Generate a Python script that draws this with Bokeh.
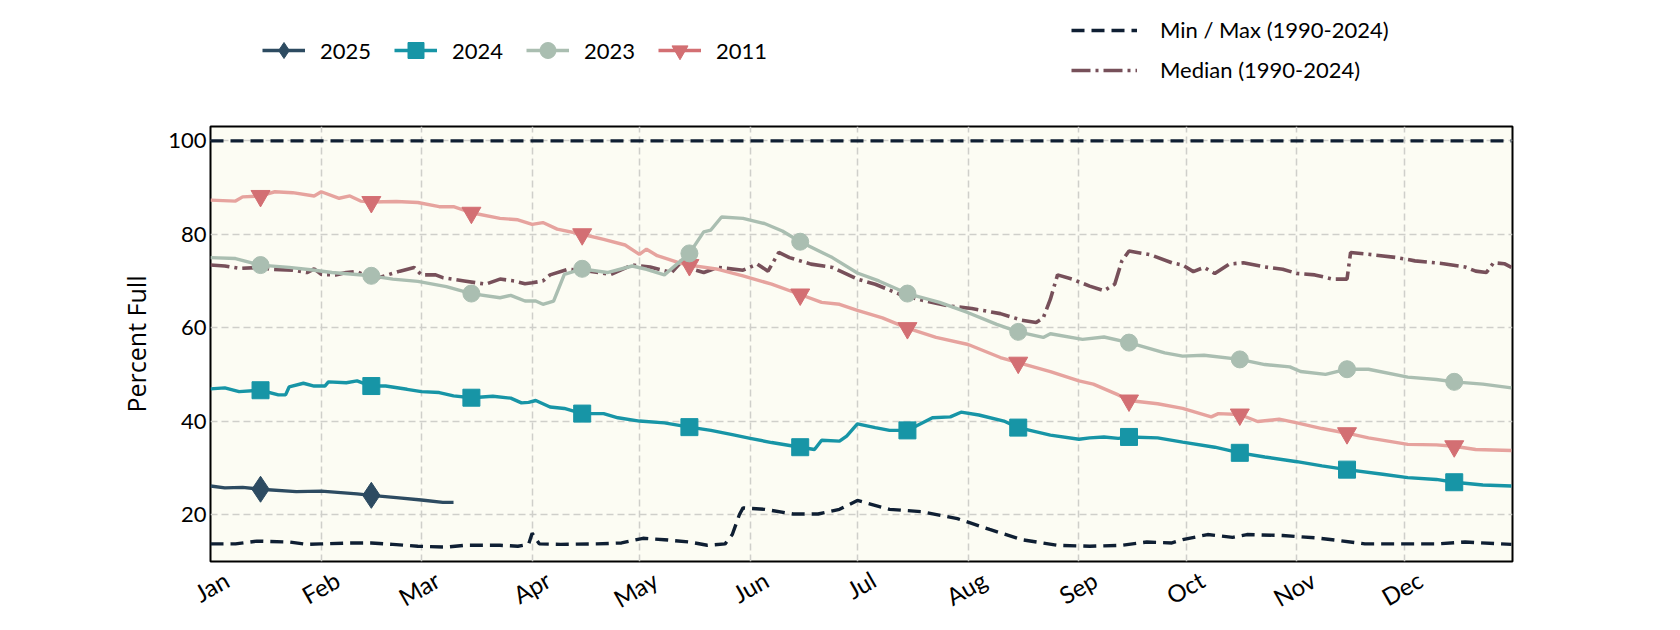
from bokeh.plotting import figure
from bokeh.layouts import column
from bokeh.models import Range1d, FixedTicker, Legend, LegendItem
from bokeh.embed import file_html
from bokeh.resources import INLINE

# ---------------- data (day of year, percent full) ----------------
month_names = ["Jan", "Feb", "Mar", "Apr", "May", "Jun",
               "Jul", "Aug", "Sep", "Oct", "Nov", "Dec"]
month_start_days = [0, 31, 59, 90, 120, 151, 181, 212, 243, 273, 304, 334]
marker_days = [14, 45, 73, 104, 134, 165, 195, 226, 257, 288, 318, 348]

y_ticks = [20, 40, 60, 80, 100]

days_2025 = [0, 4, 9, 14, 24, 31, 41, 45, 52, 59, 65, 68]
vals_2025 = [26.1, 25.7, 25.8, 25.4, 24.9, 25.0, 24.4, 24.1, 23.6, 23.1, 22.6, 22.6]

days_2024 = [0, 4, 8, 14, 19, 21, 22, 26, 29, 32, 33, 38, 41, 45, 49, 55, 59, 64, 68, 73,
             79, 84, 87, 89, 91, 95, 99, 104, 110, 114, 120, 127, 134, 140, 146, 151, 157, 165, 169, 171,
             176, 178, 181, 186, 190, 195, 202, 207, 210, 215, 222, 226, 235, 243, 246, 250, 254, 257, 265, 272,
             281, 288, 295, 304, 311, 318, 328, 335, 343, 348, 356, 364]
vals_2024 = [46.9, 47.1, 46.3, 46.6, 45.6, 45.6, 47.3, 48.1, 47.5, 47.5, 48.4, 48.2, 48.6, 47.5, 47.5, 46.8, 46.3, 46.1, 45.4, 45.0,
             45.3, 44.9, 43.9, 44.0, 44.4, 43.0, 42.7, 41.6, 41.6, 40.7, 40.0, 39.6, 38.7, 38.0, 37.1, 36.3, 35.4, 34.4, 33.9, 35.9,
             35.7, 36.8, 39.4, 38.6, 38.0, 38.0, 40.7, 40.9, 41.9, 41.3, 40.0, 38.6, 37.0, 36.1, 36.4, 36.6, 36.3, 36.6, 36.4, 35.5,
             34.4, 33.2, 32.3, 31.3, 30.4, 29.6, 28.6, 27.9, 27.5, 26.9, 26.3, 26.1]

days_2023 = [0, 7, 14, 22, 28, 34, 45, 51, 58, 66, 73, 81, 84, 88, 91, 93, 96, 99, 104, 111,
             118, 122, 127, 134, 138, 140, 143, 149, 155, 160, 165, 174, 181, 187, 195, 204, 212, 220, 226, 233,
             235, 244, 250, 257, 267, 272, 278, 288, 295, 302, 305, 312, 318, 324, 335, 343, 348, 356, 364]
vals_2023 = [75.0, 74.8, 73.4, 72.9, 72.4, 71.8, 71.1, 70.4, 69.9, 68.8, 67.3, 66.4, 66.9, 65.7, 65.7, 65.0, 65.7, 71.4, 72.6, 71.8,
             73.2, 72.5, 71.3, 75.9, 80.5, 80.9, 83.7, 83.4, 82.3, 80.7, 78.4, 75.0, 71.7, 70.0, 67.3, 65.4, 63.2, 60.7, 59.1, 57.9,
             58.7, 57.5, 58.0, 56.8, 54.6, 53.9, 54.1, 53.2, 52.1, 51.6, 50.6, 50.0, 51.1, 51.1, 49.4, 48.9, 48.4, 47.9, 47.1]

days_2011 = [0, 7, 9, 14, 18, 23, 29, 31, 36, 39, 42, 45, 52, 58, 64, 68, 73, 81, 86, 90,
             93, 97, 104, 110, 116, 120, 122, 125, 131, 134, 142, 149, 157, 165, 171, 176, 181, 188, 195, 203,
             212, 221, 226, 235, 243, 247, 254, 257, 265, 272, 280, 282, 288, 293, 299, 304, 311, 318, 324, 335,
             343, 348, 354, 364]
vals_2011 = [87.3, 87.1, 88.0, 88.2, 89.1, 88.9, 88.2, 89.1, 87.7, 88.2, 87.1, 86.9, 87.0, 86.8, 85.9, 85.9, 84.6, 83.4, 83.1, 82.1,
             82.5, 81.1, 80.0, 78.9, 77.7, 75.7, 76.8, 75.4, 73.9, 73.4, 72.5, 71.1, 69.3, 67.1, 65.4, 65.0, 63.7, 62.1, 59.9, 57.9,
             56.4, 53.6, 52.5, 50.6, 48.6, 47.9, 45.6, 44.4, 43.7, 42.7, 40.9, 41.6, 41.4, 39.9, 40.4, 39.6, 38.4, 37.4, 36.4, 35.0,
             34.9, 34.6, 33.9, 33.7]

days_median = [0, 4, 8, 14, 17, 23, 27, 29, 31, 35, 38, 41, 43, 47, 53, 57, 59, 63, 65, 71,
               77, 81, 85, 88, 90, 93, 95, 100, 106, 112, 118, 123, 129, 132, 135, 138, 142, 149, 153, 156,
               159, 162, 168, 174, 181, 186, 193, 199, 207, 213, 221, 227, 231, 233, 235, 237, 241, 246, 250, 253,
               255, 257, 263, 269, 272, 275, 278, 281, 285, 289, 295, 300, 304, 309, 314, 318, 319, 324, 332, 337,
               345, 351, 354, 357, 359, 362, 364]
vals_median = [73.4, 73.2, 72.7, 72.9, 72.5, 72.3, 71.8, 72.6, 71.4, 71.3, 71.8, 72.0, 71.3, 70.7, 72.1, 72.9, 71.3, 71.3, 70.7, 70.0,
               69.3, 70.4, 70.0, 69.4, 69.6, 70.0, 71.3, 72.5, 72.1, 71.4, 73.4, 73.0, 71.8, 74.3, 72.5, 71.8, 72.9, 72.3, 73.6, 72.1,
               76.1, 75.0, 73.6, 72.9, 70.4, 69.3, 67.1, 65.9, 64.6, 64.1, 63.0, 61.6, 61.1, 62.1, 66.1, 71.3, 70.4, 68.9, 67.9, 69.3,
               74.3, 76.4, 75.6, 73.9, 73.4, 72.0, 72.9, 71.6, 73.6, 73.9, 73.0, 72.5, 71.6, 71.3, 70.4, 70.4, 76.1, 75.7, 75.0, 74.3,
               73.7, 73.0, 72.1, 71.8, 73.9, 73.7, 72.9]

days_min = [0, 7, 13, 22, 27, 31, 39, 45, 51, 58, 66, 71, 81, 86, 89, 90, 92, 98, 108, 115,
            121, 127, 134, 139, 144, 146, 148, 149, 155, 163, 170, 176, 181, 190, 199, 209, 218, 227, 237, 246,
            255, 262, 269, 272, 279, 286, 290, 300, 309, 316, 323, 332, 343, 351, 364]
vals_min = [13.7, 13.7, 14.3, 14.1, 13.6, 13.7, 13.9, 13.9, 13.6, 13.2, 13.0, 13.4, 13.4, 13.2, 13.6, 16.0, 13.7, 13.6, 13.7, 13.9,
            14.9, 14.6, 14.1, 13.4, 13.7, 15.7, 20.0, 21.4, 21.1, 20.1, 20.1, 21.1, 23.0, 21.1, 20.6, 19.1, 16.8, 14.6, 13.4, 13.2,
            13.4, 14.1, 13.9, 14.6, 15.7, 15.1, 15.7, 15.5, 15.0, 14.4, 13.7, 13.7, 13.7, 14.1, 13.6]

days_max = [0, 364]
vals_max = [100.0, 100.0]

# ---------------- styling ----------------
FONT = "Lato"
FS = "22px"
LABEL_FONT = "Open Sans"
C2025 = "#2d4b61"
C2024 = "#1795a6"
C2023 = "#aabeb1"
C2011_M = "#d36f73"
C2011_L = "#e6a39e"
CMIN = "#0f1f33"
CMED = "#77505a"
LABEL_SHIFT_DAYS = 4.5   # rotated month labels are centred on their gridline
LW = 3.4

MIN_DASH = "13 7"
MED_DASH = "19 5 3 5"


def marks(days, vals):
    xs = [d for d in days if d in marker_days]
    ys = [v for d, v in zip(days, vals) if d in marker_days]
    return xs, ys


# ---------------- main chart ----------------
p = figure(width=1680, height=510, output_backend="svg", toolbar_location=None,
           x_range=Range1d(0, 364.3), y_range=Range1d(9.93, 103.07),
           min_border_left=210, min_border_right=168, min_border_top=6, min_border_bottom=69)
p.background_fill_color = "#fcfcf3"
p.border_fill_color = "white"
p.outline_line_color = "black"
p.outline_line_width = 2

label_ticks = [d + LABEL_SHIFT_DAYS for d in month_start_days]
p.xaxis.ticker = FixedTicker(ticks=label_ticks)
p.xaxis.major_label_overrides = {t: n for t, n in zip(label_ticks, month_names)}
p.xaxis.major_label_orientation = 0.52
p.yaxis.ticker = FixedTicker(ticks=y_ticks)
p.xgrid.ticker = FixedTicker(ticks=month_start_days)
p.ygrid.ticker = FixedTicker(ticks=y_ticks)
for g in (p.xgrid, p.ygrid):
    g.grid_line_color = "#cfcfca"
    g.grid_line_dash = "7 4"
    g.grid_line_width = 1.5

for ax in (p.xaxis, p.yaxis):
    ax.axis_line_color = None
    ax.major_tick_line_color = None
    ax.minor_tick_line_color = None
    ax.major_tick_out = 0
    ax.major_tick_in = 0
    ax.minor_tick_out = 0
    ax.major_label_text_font = FONT
    ax.major_label_text_font_size = FS
    ax.major_label_text_color = "black"
p.xaxis.major_label_text_font_size = "24px"
p.xaxis.major_label_standoff = 16
p.yaxis.major_label_standoff = 4
p.yaxis.axis_label = "Percent Full"
p.yaxis.axis_label_text_font = LABEL_FONT
p.yaxis.axis_label_text_font_size = "25px"
p.yaxis.axis_label_text_font_style = "normal"
p.yaxis.axis_label_text_color = "black"
p.yaxis.axis_label_standoff = 12

p.line(days_max, vals_max, line_color=CMIN, line_width=LW, line_dash=MIN_DASH)
p.line(days_min, vals_min, line_color=CMIN, line_width=LW, line_dash=MIN_DASH)
p.line(days_median, vals_median, line_color=CMED, line_width=3.6, line_dash=MED_DASH)

p.line(days_2011, vals_2011, line_color=C2011_L, line_width=LW)
x, y = marks(days_2011, vals_2011)
p.scatter(x, y, marker="inverted_triangle", size=19, fill_color=C2011_M, line_color=C2011_M)

p.line(days_2023, vals_2023, line_color=C2023, line_width=LW)
x, y = marks(days_2023, vals_2023)
p.scatter(x, y, marker="circle", size=17, fill_color=C2023, line_color=C2023)

p.line(days_2024, vals_2024, line_color=C2024, line_width=LW)
x, y = marks(days_2024, vals_2024)
p.scatter(x, y, marker="square", size=17, fill_color=C2024, line_color=C2024)

p.line(days_2025, vals_2025, line_color=C2025, line_width=LW)
x, y = marks(days_2025, vals_2025)
p.scatter(x, y, marker="diamond", size=26, fill_color=C2025, line_color=C2025)

# ---------------- legend band above the chart ----------------
# its ranges keep the (real) data out of view, so only the legend glyphs show
lf = figure(width=1680, height=120, output_backend="svg", toolbar_location=None,
            x_range=Range1d(0, 1), y_range=Range1d(-2, -1),
            x_axis_type=None, y_axis_type=None,
            min_border_left=0, min_border_right=0, min_border_top=0, min_border_bottom=0)
lf.outline_line_color = None
lf.grid.visible = False
lf.background_fill_color = "white"
lf.border_fill_color = "white"

g25l = lf.line(days_2025, vals_2025, line_color=C2025, line_width=LW)
g25m = lf.scatter(days_2025, vals_2025, marker="diamond", fill_color=C2025, line_color=C2025)
g24l = lf.line(days_2024, vals_2024, line_color=C2024, line_width=LW)
g24m = lf.scatter(days_2024, vals_2024, marker="square", fill_color=C2024, line_color=C2024)
g23l = lf.line(days_2023, vals_2023, line_color=C2023, line_width=LW)
g23m = lf.scatter(days_2023, vals_2023, marker="circle", fill_color=C2023, line_color=C2023)
g11l = lf.line(days_2011, vals_2011, line_color=C2011_M, line_width=LW)
g11m = lf.scatter(days_2011, vals_2011, marker="inverted_triangle", fill_color=C2011_M, line_color=C2011_M)
gmin = lf.line(days_min, vals_min, line_color=CMIN, line_width=LW, line_dash=MIN_DASH)
gmed = lf.line(days_median, vals_median, line_color=CMED, line_width=3.6, line_dash=MED_DASH)

# the column aligns this band's frame with the chart frame (x = 210 px)
leg1 = Legend(items=[LegendItem(label="2025", renderers=[g25l, g25m]),
                     LegendItem(label="2024", renderers=[g24l, g24m]),
                     LegendItem(label="2023", renderers=[g23l, g23m]),
                     LegendItem(label="2011", renderers=[g11l, g11m])],
              orientation="horizontal", location=(52, 50),
              glyph_width=43, glyph_height=40, label_standoff=15, label_width=74, spacing=0,
              padding=0, margin=0, border_line_color=None, background_fill_alpha=0,
              label_text_font=FONT, label_text_font_size=FS, label_text_color="black")
leg2 = Legend(items=[LegendItem(label="Min / Max (1990-2024)", renderers=[gmin]),
                     LegendItem(label="Median (1990-2024)", renderers=[gmed])],
              orientation="vertical", location=(861, 37),
              glyph_width=66, glyph_height=22, label_standoff=23, spacing=13,
              padding=0, margin=0, border_line_color=None, background_fill_alpha=0,
              label_text_font=FONT, label_text_font_size=FS, label_text_color="black")
lf.add_layout(leg1, "center")
lf.add_layout(leg2, "center")

layout = column(lf, p, spacing=0)
open("out.html", "w").write(file_html(layout, INLINE))
